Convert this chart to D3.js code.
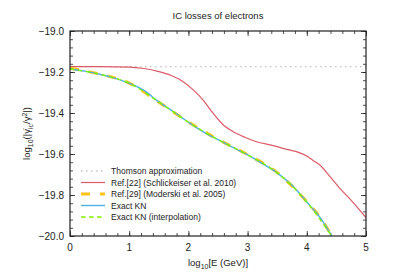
<!DOCTYPE html>
<html>
<head>
<meta charset="utf-8">
<script src="https://cdnjs.cloudflare.com/ajax/libs/d3/7.8.5/d3.min.js"></script>
<style>
  body { margin: 0; background: #fff; }
  svg text { font-family: "Liberation Sans", Arial, sans-serif; fill: #222; }
</style>
</head>
<body>
<svg id="chart" width="399" height="279"></svg>
<script>
// values
var xTicks = [0, 1, 2, 3, 4, 5];
var yTicks = [-19.0, -19.2, -19.4, -19.6, -19.8, -20.0];

var thomsonE = [0, 5];
var thomsonV = [-19.174, -19.174];

var schlE = [0, 0.5, 1.0, 1.25, 1.5, 1.7, 1.9, 2.1, 2.25, 2.4, 2.6, 2.75, 2.95, 3.15, 3.4, 3.7, 3.85, 4.0, 4.1, 4.22, 4.4, 4.55, 4.75, 5.0];
var schlV = [-19.174, -19.174, -19.176, -19.183, -19.198, -19.216, -19.245, -19.292, -19.337, -19.395, -19.461, -19.490,
             -19.518, -19.540, -19.557, -19.580, -19.591, -19.610, -19.630, -19.654, -19.713, -19.765, -19.826, -19.910];

var modE = [0, 0.5, 1.0, 1.5, 2.0, 2.5, 3.0, 3.5, 4.0, 4.25, 4.42];
var modV = [-19.182, -19.210, -19.254, -19.347, -19.444, -19.529, -19.603, -19.691, -19.833, -19.919, -20.0];

var knE = [0, 0.25, 0.5, 0.75, 1.0, 1.25, 1.5, 1.75, 2.0, 2.25, 2.5, 2.75, 3.0, 3.25, 3.5, 3.75, 4.0, 4.25, 4.42];
var knV = [-19.185, -19.196, -19.211, -19.230, -19.255, -19.290, -19.346, -19.394, -19.445, -19.492,
           -19.530, -19.568, -19.604, -19.647, -19.692, -19.753, -19.834, -19.920, -20.0];

var interpE = [0, 0.5, 1.0, 1.5, 2.0, 2.5, 3.0, 3.5, 4.0, 4.42];
var interpV = [-19.185, -19.211, -19.255, -19.346, -19.445, -19.530, -19.604, -19.692, -19.834, -20.0];

var legendLabels = ['Thomson approximation', 'Ref.[22] (Schlickeiser et al. 2010)',
                    'Ref.[29] (Moderski et al. 2005)', 'Exact KN', 'Exact KN (interpolation)'];

var series = [
  { e: thomsonE, v: thomsonV, color: '#c4c4c4', width: 1.3, dash: '1.5,3.5' },
  { e: schlE, v: schlV, color: '#dc5a66', width: 1.2, dash: null },
  { e: modE, v: modV, color: '#ffc21a', width: 3, dash: '9,10' },
  { e: knE, v: knV, color: '#4fb0e6', width: 1.4, dash: null },
  { e: interpE, v: interpV, color: '#7ef000', width: 1.4, dash: '4.5,3.5' }
];

var margin = { left: 70, right: 33, top: 31, bottom: 43 };
var W = 399, H = 279;
var svg = d3.select('#chart');

var x = d3.scaleLinear().domain([0, 5]).range([margin.left, W - margin.right]);
var y = d3.scaleLinear().domain([-20, -19]).range([H - margin.bottom, margin.top]);

svg.append('clipPath').attr('id', 'plotclip')
  .append('rect')
  .attr('x', x(0)).attr('y', y(-19))
  .attr('width', x(5) - x(0)).attr('height', y(-20) - y(-19));

// ticks on all four sides, pointing inward
var xMinor = d3.range(0, 5.0001, 0.2);
var yMinor = d3.range(-20, -18.9999, 0.04);

function tickAxis(axis, sel) {
  sel.call(axis);
  sel.select('.domain').remove();
  sel.selectAll('text').remove();
  sel.selectAll('line').attr('stroke', '#222').attr('stroke-width', 0.8);
}

var xl = x(0), xr = x(5), yt = y(-19), yb = y(-20);

tickAxis(d3.axisBottom(x).tickValues(xMinor).tickSize(-3), svg.append('g').attr('transform', 'translate(0,' + yb + ')'));
tickAxis(d3.axisBottom(x).tickValues(xTicks).tickSize(-5), svg.append('g').attr('transform', 'translate(0,' + yb + ')'));
tickAxis(d3.axisTop(x).tickValues(xMinor).tickSize(-3), svg.append('g').attr('transform', 'translate(0,' + yt + ')'));
tickAxis(d3.axisTop(x).tickValues(xTicks).tickSize(-5), svg.append('g').attr('transform', 'translate(0,' + yt + ')'));
tickAxis(d3.axisLeft(y).tickValues(yMinor).tickSize(-3), svg.append('g').attr('transform', 'translate(' + xl + ',0)'));
tickAxis(d3.axisLeft(y).tickValues(yTicks).tickSize(-5), svg.append('g').attr('transform', 'translate(' + xl + ',0)'));
tickAxis(d3.axisRight(y).tickValues(yMinor).tickSize(-3), svg.append('g').attr('transform', 'translate(' + xr + ',0)'));
tickAxis(d3.axisRight(y).tickValues(yTicks).tickSize(-5), svg.append('g').attr('transform', 'translate(' + xr + ',0)'));

// tick labels
svg.append('g').selectAll('text').data(xTicks).enter().append('text')
  .attr('x', function (d) { return x(d); })
  .attr('y', yb + 14.5)
  .attr('text-anchor', 'middle')
  .style('font-size', '10px')
  .text(function (d) { return d; });

svg.append('g').selectAll('text').data(yTicks).enter().append('text')
  .attr('x', xl - 6)
  .attr('y', function (d) { return y(d) + 3.5; })
  .attr('text-anchor', 'end')
  .style('font-size', '10px')
  .text(function (d) { return d3.format('.1f')(d); });

// curves
var plot = svg.append('g').attr('clip-path', 'url(#plotclip)');
series.forEach(function (s) {
  var pts = s.e.map(function (e, i) { return [e, s.v[i]]; });
  var line = d3.line()
    .x(function (d) { return x(d[0]); })
    .y(function (d) { return y(d[1]); })
    .curve(d3.curveMonotoneX);
  plot.append('path')
    .attr('d', line(pts))
    .attr('fill', 'none')
    .attr('stroke', s.color)
    .attr('stroke-width', s.width)
    .attr('stroke-dasharray', s.dash);
});

// frame
svg.append('rect')
  .attr('x', xl).attr('y', yt)
  .attr('width', xr - xl).attr('height', yb - yt)
  .attr('fill', 'none').attr('stroke', '#222').attr('stroke-width', 1.2);

// legend
var leg = svg.append('g');
legendLabels.forEach(function (lab, i) {
  var ly = 171 + i * 11.5;
  var s = series[i];
  leg.append('line')
    .attr('x1', 81).attr('x2', 105).attr('y1', ly).attr('y2', ly)
    .attr('stroke', s.color).attr('stroke-width', s.width)
    .attr('stroke-dasharray', s.dash);
  leg.append('text')
    .attr('x', 111).attr('y', ly + 3)
    .style('font-size', '8.5px')
    .text(lab);
});

// title and axis labels
svg.append('text')
  .attr('x', 218).attr('y', 19)
  .attr('text-anchor', 'middle')
  .style('font-size', '9.5px')
  .text('IC losses of electrons');

var xlab = svg.append('text')
  .attr('x', 218).attr('y', 266)
  .attr('text-anchor', 'middle')
  .style('font-size', '9.5px');
xlab.append('tspan').text('log');
xlab.append('tspan').attr('dy', 3).style('font-size', '7px').text('10');
xlab.append('tspan').attr('dy', -3).text('[E (GeV)]');

var ylab = svg.append('text')
  .attr('transform', 'translate(30,' + ((yt + yb) / 2) + ') rotate(-90)')
  .attr('text-anchor', 'middle')
  .style('font-size', '9.5px');
ylab.append('tspan').text('log');
ylab.append('tspan').attr('dy', 3).style('font-size', '7px').text('10');
ylab.append('tspan').attr('dy', -3).text('(|\u03B3\u0307');
ylab.append('tspan').attr('dy', 3).style('font-size', '7px').text('ic');
ylab.append('tspan').attr('dy', -3).text('/\u03B3');
ylab.append('tspan').attr('dy', -3).style('font-size', '7px').text('2');
ylab.append('tspan').attr('dy', 3).text('|)');
</script>
</body>
</html>
